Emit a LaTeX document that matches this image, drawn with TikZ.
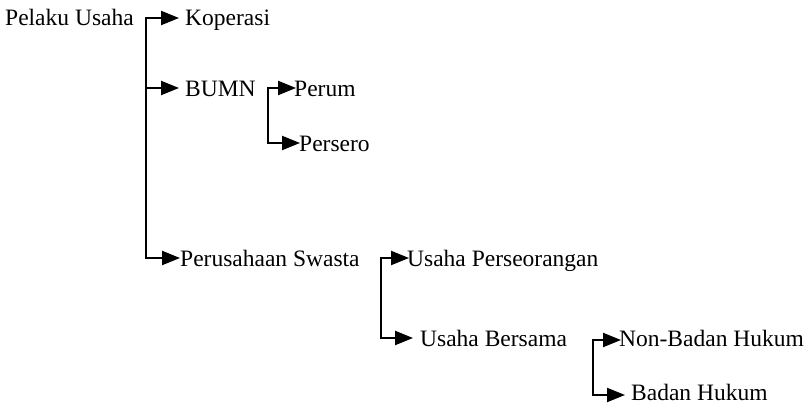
\documentclass[tikz,border=0pt]{standalone}
\usepackage{fontspec}
\setmainfont{Liberation Serif}
\usetikzlibrary{arrows.meta}
\begin{document}
\begin{tikzpicture}[x=1pt,y=-1pt,
  lbl/.style={anchor=base west,inner sep=0pt,font=\fontsize{23.5}{28}\selectfont},
  conn/.style={line width=2.2pt},
  arr/.style={conn,-{Triangle[length=18pt,width=14pt]}}]
\useasboundingbox (0,0) rectangle (807,404);
% text nodes (baseline = row + 8)
\node[lbl] (pu)  at (5,26) {Pelaku Usaha};
\node[lbl] (kop) at (185,26) {Koperasi};
\node[lbl] (bumn) at (185,96) {BUMN};
\node[lbl] (perum) at (294,96) {Perum};
\node[lbl] (pers) at (299,151) {Persero};
\node[lbl] (ps) at (180,266) {Perusahaan Swasta};
\node[lbl] (up) at (407,266) {Usaha Perseorangan};
\node[lbl] (ub) at (420,346) {Usaha Bersama};
\node[lbl] (nbh) at (619,346) {Non-Badan Hukum};
\node[lbl] (bh) at (631,400) {Badan Hukum};
% spine coordinates
\coordinate (m1) at (146,18);  \coordinate (m2) at (146,88);  \coordinate (m3) at (146,258);
\coordinate (b1) at (268,88);  \coordinate (b2) at (268,143);
\coordinate (p1) at (381,258); \coordinate (p2) at (381,338);
\coordinate (u1) at (593,340); \coordinate (u2) at (593,395);
% tip coordinates
\coordinate (tkop) at (179,18);
\coordinate (tbumn) at (179,88);
\coordinate (tps) at (180,258);
\coordinate (tperum) at (296,88);
\coordinate (tpers) at (300,143);
\coordinate (tup) at (409,258);
\coordinate (tub) at (413,338);
\coordinate (tnbh) at (621,340);
\coordinate (tbh) at (625,395);
% spines
\draw[conn] (m1) -- (m3);
\draw[conn] (b1) -- (b2);
\draw[conn] (p1) -- (p2);
\draw[conn] (u1) -- (u2);
% arrows
\draw[arr] ([xshift=-1.1pt]m1) -- (tkop);
\draw[arr] (m2) -- (tbumn);
\draw[arr] ([xshift=-1.1pt]m3) -- (tps);
\draw[arr] ([xshift=-1.1pt]b1) -- (tperum);
\draw[arr] ([xshift=-1.1pt]b2) -- (tpers);
\draw[arr] ([xshift=-1.1pt]p1) -- (tup);
\draw[arr] ([xshift=-1.1pt]p2) -- (tub);
\draw[arr] ([xshift=-1.1pt]u1) -- (tnbh);
\draw[arr] ([xshift=-1.1pt]u2) -- (tbh);
\end{tikzpicture}
\end{document}
